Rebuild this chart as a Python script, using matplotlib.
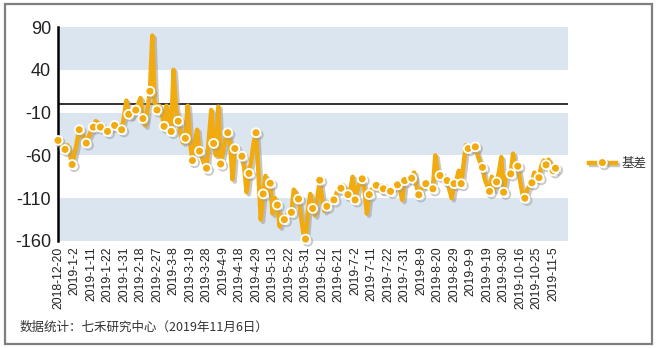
import matplotlib
matplotlib.use("Agg")
import matplotlib.pyplot as plt
import matplotlib.patheffects as pe
from matplotlib.patches import Rectangle

plt.rcParams['font.family'] = ['Liberation Sans', 'Noto Sans CJK SC', 'DejaVu Sans']

# 基差 (每个交易日)
basis = [
    -42.5, -45, -50,  -53, -48, -58,  -70.6, -58, -45,  -30, -35, -40,
    -45.6, -38, -32,  -27, -20, -22,  -27, -25, -28,  -32, -30, -26,
    -25, -24, -27,  -30, -15, 4,  -12, -15, -8,  -7, 0, 7,
    -17, -25, -5,  15, 80, 2,  -7, -2, -10,  -26, -2, -15,
    -32, 40, -5,  -20, -35, -45,  -40, -2, -45,  -66, -45, -30,
    -55, -62, -70,  -75, -40, -7,  -46, -60, -3,  -70, -55, -42,
    -33.5, -45, -88,  -52, -60, -58,  -61, -75, -103,  -81, -65, -45,
    -33.5, -80, -135,  -105, -84, -100,  -92.5, -128, -110,  -118, -143, -130,
    -135, -130, -125,  -126.5, -100, -105,  -111, -130, -150,  -157.7, -125, -105,
    -122, -130, -110,  -89, -110, -125,  -119.5, -115, -113,  -112, -105, -100,
    -98.4, -95, -100,  -105.8, -100, -85,  -112, -100, -92,  -87.4, -100, -128,
    -105.8, -100, -97,  -95, -98, -102,  -99, -96, -100,  -102, -98, -96,
    -94.4, -100, -112,  -89.4, -90, -86,  -86.7, -80, -95,  -106, -100, -95,
    -93, -92, -96,  -99, -60, -78,  -83.5, -85, -92,  -89.4, -100, -110,
    -93, -88, -78,  -93, -70, -48,  -52, -53, -48,  -50, -60, -68,
    -74, -88, -95,  -102, -85, -100,  -91, -80, -62,  -103, -85, -80,
    -81.5, -58, -75,  -72.6, -90, -105,  -110, -100, -95,  -92, -80, -88,
    -86, -72, -66,  -71, -65, -70,  -78, -75,
]

date_labels = [
    '2018-12-20', '2019-1-2', '2019-1-11', '2019-1-22', '2019-1-31', '2019-2-18',
    '2019-2-27', '2019-3-8', '2019-3-19', '2019-3-28', '2019-4-9', '2019-4-18',
    '2019-4-29', '2019-5-13', '2019-5-22', '2019-5-31', '2019-6-12', '2019-6-21',
    '2019-7-2', '2019-7-11', '2019-7-22', '2019-7-31', '2019-8-9', '2019-8-20',
    '2019-8-29', '2019-9-9', '2019-9-19', '2019-9-30', '2019-10-16', '2019-10-25',
    '2019-11-5',
]

y_ticks = [90, 40, -10, -60, -110, -160]

gold = '#F2AB0F'
n = len(basis)
x = list(range(n))

fig = plt.figure(figsize=(6.56, 3.48), dpi=100)
ax = fig.add_axes([58 / 656, 1 - 241 / 348, 510 / 656, 214 / 348])

# 背景色带
for lo, hi in [(40, 90), (-60, -10), (-160, -110)]:
    ax.axhspan(lo, hi, color='#DAE5F0', lw=0, zorder=0)
ax.axhline(0, color='#222222', lw=1.3, zorder=1)

shadow = [pe.SimpleLineShadow(offset=(1.6, -1.6), shadow_color='#9a9a9a', alpha=0.55), pe.Normal()]
marks = list(range(0, n, 3)) + [n - 1]
ax.plot(x, basis, color=gold, lw=3.2, marker='o', markevery=marks,
        markersize=6.4, markerfacecolor=gold, markeredgecolor='white',
        markeredgewidth=1.3, label='基差', clip_on=False, zorder=3,
        path_effects=shadow)

ax.set_xlim(0, 216.3)
ax.set_ylim(-160, 90)
ax.set_yticks(y_ticks)
ax.set_yticklabels([str(v) for v in y_ticks], fontsize=13, color='#222222')
ax.set_xticks(range(0, n, 7)[:len(date_labels)])
ax.set_xticklabels(date_labels, rotation=90, fontsize=8.8, color='#222222')
ax.tick_params(axis='both', length=0)
ax.tick_params(axis='y', pad=5)
ax.tick_params(axis='x', pad=4)

for s in ['top', 'right', 'bottom']:
    ax.spines[s].set_visible(False)
ax.spines['left'].set_linewidth(1.8)
ax.spines['left'].set_color('black')

fig.legend(loc='center left', bbox_to_anchor=(578 / 656, 1 - 164 / 348),
           frameon=False, fontsize=9, handlelength=2.1, handletextpad=0.5,
           numpoints=1, labelcolor='#333333')

fig.text(20 / 656, 1 - 327 / 348, '数据统计：七禾研究中心（2019年11月6日）',
         fontsize=9, color='#333333', va='center',
         family=['Noto Sans CJK SC', 'DejaVu Sans'])

# 外框
fig.add_artist(Rectangle((5 / 656, 4 / 348), 647 / 656, 340 / 348,
                         transform=fig.transFigure, fill=False,
                         edgecolor='#7f7f7f', lw=1.6))

fig.savefig('out.png', dpi=100)
